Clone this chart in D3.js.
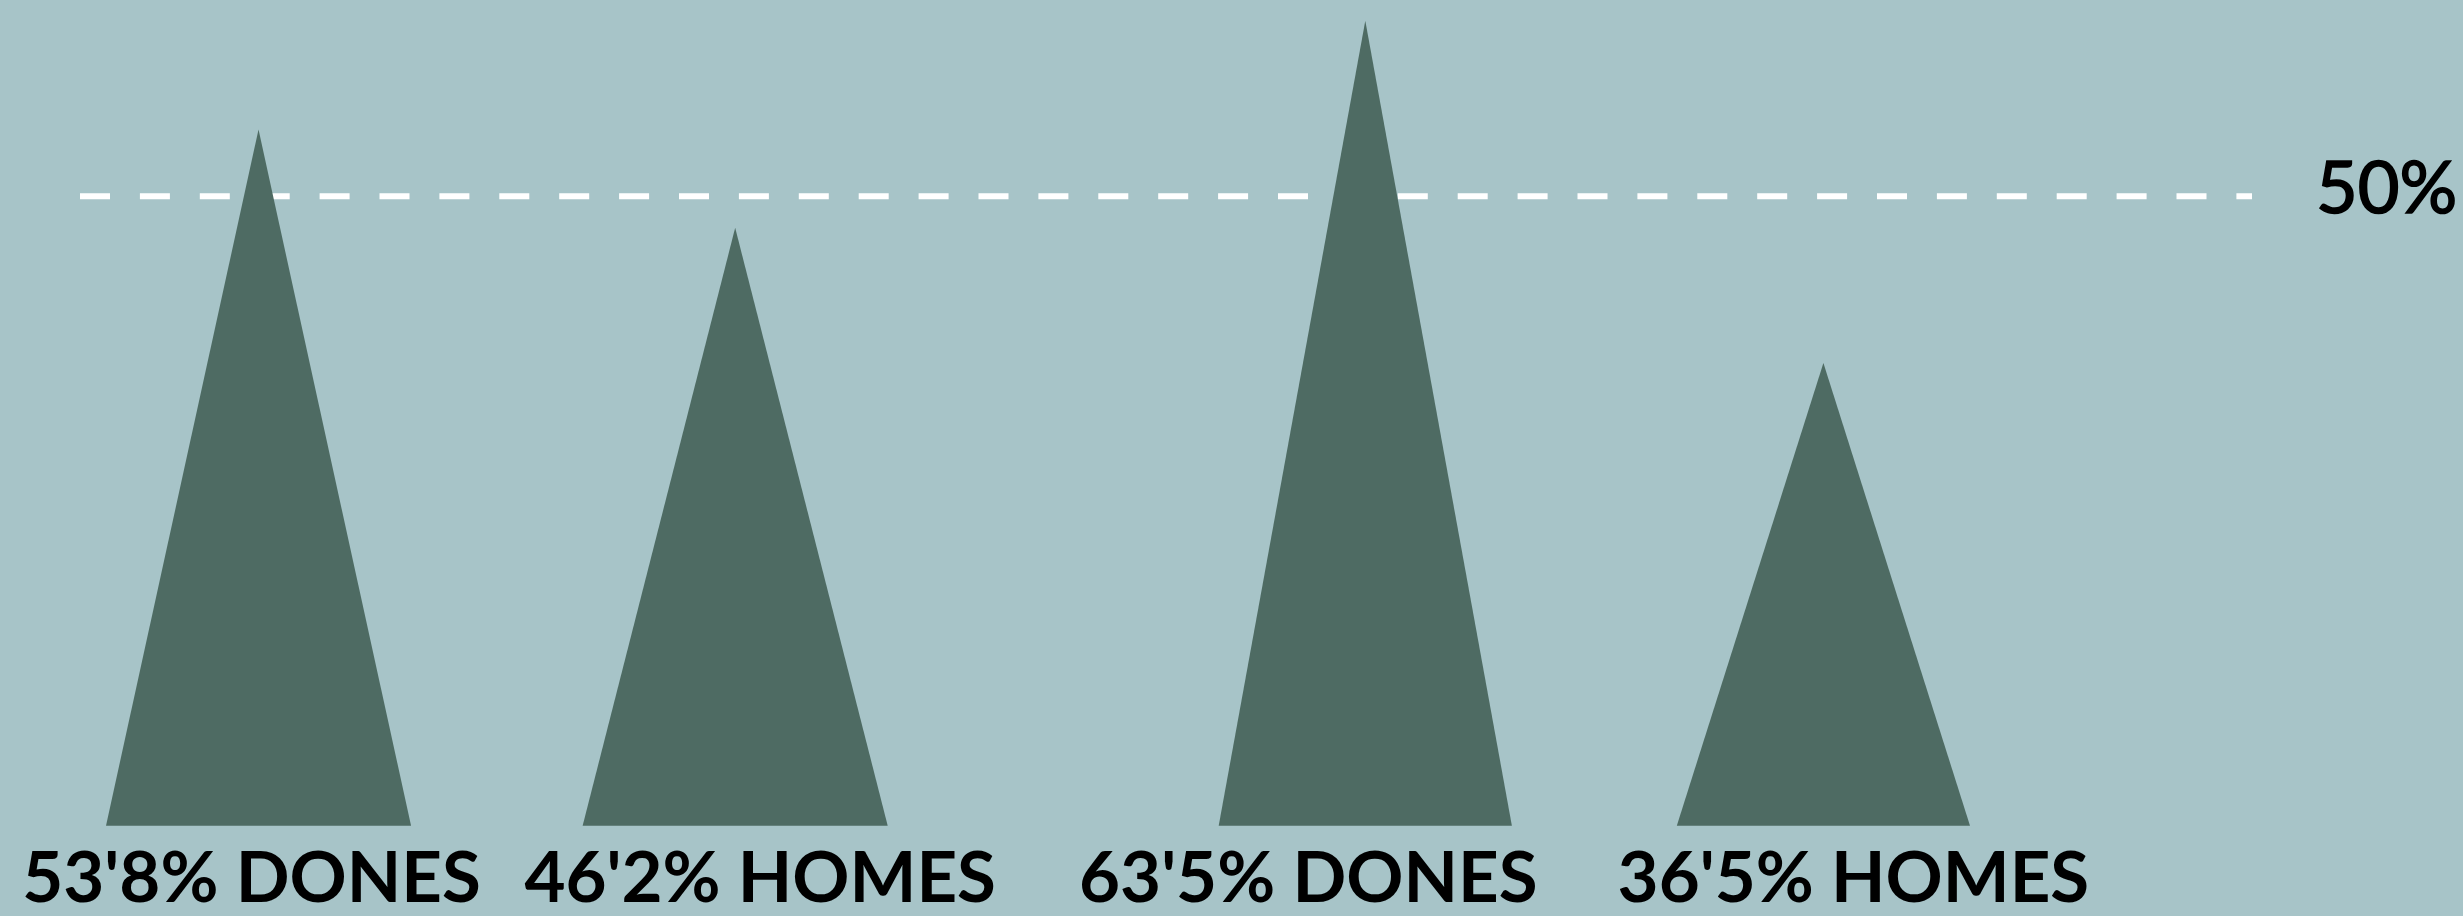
<!DOCTYPE html>
<html>
<head>
<meta charset="utf-8">
<script src="https://cdn.jsdelivr.net/npm/d3@7"></script>
<style>
  html, body { margin: 0; padding: 0; background: #a7c4c8; overflow: hidden; }
  svg { display: block; }
</style>
</head>
<body>
<svg id="chart" width="2463" height="916"></svg>
<script>
// ---- data ----
const categories = ["DONES", "HOMES", "DONES", "HOMES"];
const panels = ["A", "A", "B", "B"];
const values = [53.8, 46.2, 63.5, 36.5];
const valueLabels = ["53'8%", "46'2%", "63'5%", "36'5%"];
const refValue = 50;
const refLabel = "50%";

// ---- layout ----
const W = 2463, H = 916;
const baseY = 825.7;
const bg = "#a7c4c8", fill = "#4e6b63";
const svg = d3.select("#chart");
svg.append("rect").attr("width", W).attr("height", H).attr("fill", bg);

const panelRange = { A: [106, 887.7], B: [1218.7, 1970] };
const panelPxPerUnit = { A: 12.94, B: 12.675 };
const xScales = {}, yScales = {};
["A", "B"].forEach(p => {
  const idx = panels.map((q, i) => q === p ? i : -1).filter(i => i >= 0);
  xScales[p] = d3.scaleBand().domain(idx).range(panelRange[p]).paddingInner(0.36).paddingOuter(0);
  yScales[p] = d3.scaleLinear().domain([0, 100]).range([baseY, baseY - 100 * panelPxPerUnit[p]]);
});
const yRef = d3.scaleLinear().domain([0, 100]).range([baseY, baseY - 100 * 12.59]);

const data = values.map((v, i) => ({ v, i, cat: categories[i], p: panels[i], lab: valueLabels[i] }));

// reference line
const ry = yRef(refValue);
svg.append("line")
  .attr("x1", 80).attr("x2", 2252)
  .attr("y1", ry).attr("y2", ry)
  .attr("stroke", "#ffffff").attr("stroke-width", 6)
  .attr("stroke-dasharray", "30 29.9");

svg.append("text")
  .attr("x", 2316).attr("y", ry + 17)
  .attr("font-family", "Lato, sans-serif")
  .attr("font-size", 72)
  .attr("fill", "#000")
  .attr("stroke", "#000")
  .attr("stroke-width", 1.6)
  .text(refLabel);

// triangles
svg.selectAll("path.tri").data(data).enter().append("path")
  .attr("class", "tri")
  .attr("fill", fill)
  .attr("d", d => {
    const xs = xScales[d.p], ys = yScales[d.p];
    const x0 = xs(d.i), x1 = x0 + xs.bandwidth(), xc = x0 + xs.bandwidth() / 2;
    return `M${x0},${ys(0)}L${xc},${ys(d.v)}L${x1},${ys(0)}Z`;
  });

// labels
const labelShift = [-7, 25, -57, 30];
svg.selectAll("text.lab").data(data).enter().append("text")
  .attr("class", "lab")
  .attr("x", d => xScales[d.p](d.i) + xScales[d.p].bandwidth() / 2 + labelShift[d.i])
  .attr("y", 902)
  .attr("text-anchor", "middle")
  .attr("font-family", "Lato, sans-serif")
  .attr("font-weight", "bold")
  .attr("font-size", 70.8)
  .attr("fill", "#000")
  .text(d => d.lab + " " + d.cat);
</script>
</body>
</html>
